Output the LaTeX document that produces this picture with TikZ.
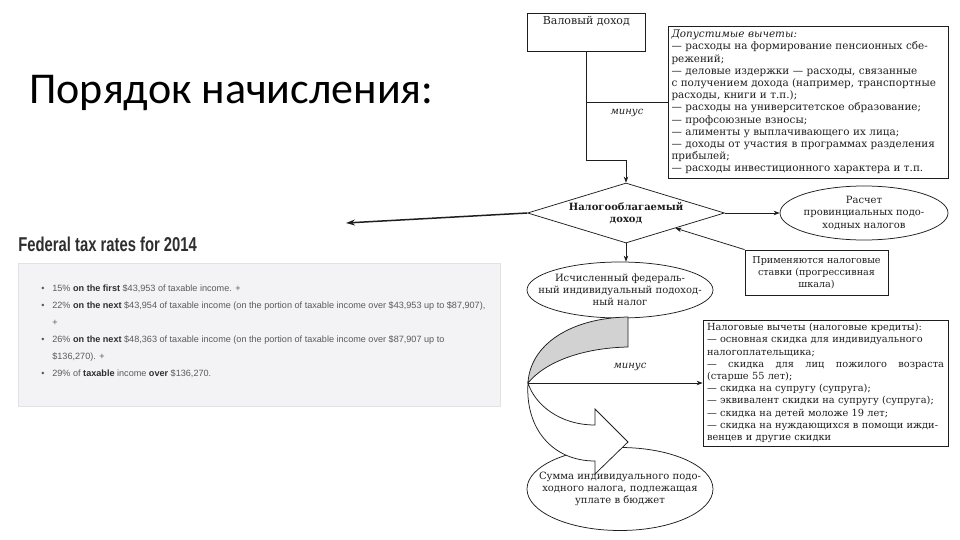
\documentclass[tikz,border=0pt]{standalone}
\usepackage{fontspec}
\usepackage{graphicx}
\setmainfont{DejaVu Serif}
\newfontfamily\titlefont{Carlito}
\newfontfamily\websans{Liberation Sans}
\usetikzlibrary{shapes.geometric,arrows.meta}
\definecolor{ink}{HTML}{1E1E1E}
\definecolor{webtext}{HTML}{5A5A5A}
\definecolor{webdark}{HTML}{2E2E2E}
\definecolor{panelfill}{HTML}{F3F3F5}
\definecolor{panelline}{HTML}{E2E2E4}
\definecolor{bandfill}{HTML}{D2D2D2}
\begin{document}
\begin{tikzpicture}[x=1pt,y=-1pt,line width=0.75pt,color=ink,
  txt/.style={font=\fontsize{10}{12.2}\selectfont},
  box/.style={draw, rectangle, inner sep=0pt, txt, align=center},
  listbox/.style={draw, rectangle, inner sep=0pt, txt, align=left},
  ell/.style={draw, ellipse, inner xsep=-30pt, inner ysep=-10pt, align=center,
              font=\fontsize{10}{12.2}\selectfont},
  arr/.style={-{Stealth[length=6pt,width=4.5pt]}},
  minuslbl/.style={font=\fontsize{10}{12}\selectfont\itshape, inner sep=0pt}
]
\useasboundingbox (0,0) rectangle (960,540);

% ---- left side ----
\node[anchor=base west, inner sep=0pt, font=\titlefont\fontsize{44}{44}\selectfont, text=black]
  (title) at (29,104) {Порядок начисления:};

\node[anchor=base west, inner sep=0pt, font=\websans\bfseries\fontsize{20}{20}\selectfont, text=webdark]
  (head) at (18,251) {\scalebox{0.74}[1]{Federal tax rates for 2014}};

\node[draw=panelline, fill=panelfill, line width=0.8pt, rectangle, minimum width=482, minimum height=143,
      anchor=north west, inner sep=0pt] (panel) at (18,263) {};

\node[anchor=north west, inner sep=0pt, align=left, text=webtext,
      font=\websans\fontsize{9.1}{17}\selectfont] (rates14) at (41,284) {%
\makebox[11pt][l]{\textbullet}15\% \textcolor{webdark}{\textbf{on the first}} \$43,953 of taxable income. +\\
\makebox[11pt][l]{\textbullet}22\% \textcolor{webdark}{\textbf{on the next}} \$43,954 of taxable income (on the portion of taxable income over \$43,953 up to \$87,907),\\
\hspace*{11pt}+\\
\makebox[11pt][l]{\textbullet}26\% \textcolor{webdark}{\textbf{on the next}} \$48,363 of taxable income (on the portion of taxable income over \$87,907 up to\\
\hspace*{11pt}\$136,270). +\\
\makebox[11pt][l]{\textbullet}29\% of \textcolor{webdark}{\textbf{taxable}} income \textcolor{webdark}{\textbf{over}} \$136,270.};

% ---- diagram ----
\node[box, minimum width=118, minimum height=38, anchor=north west,
      font=\fontsize{11}{12.2}\selectfont] (gross) at (527,13)
  {Валовый доход\\~\\~};

\node[listbox, minimum width=280, minimum height=152, text width=273,
      font=\fontsize{10.4}{12.2}\selectfont] (ded) at (808,102) {%
\textit{Допустимые вычеты:}\\
— расходы на формирование пенсионных сбе-\\
режений;\\
— деловые издержки — расходы, связанные\\
с получением дохода (например, транспортные\\
расходы, книги и т.п.);\\
— расходы на университетское образование;\\
— профсоюзные взносы;\\
— алименты у выплачивающего их лица;\\
— доходы от участия в программах разделения\\
прибылей;\\
— расходы инвестиционного характера и т.п.};

\node[draw, diamond, aspect=3.28, minimum width=197, minimum height=60, inner sep=0pt,
      align=center, font=\fontsize{10}{12.2}\selectfont\bfseries] (dia) at (626,213)
  {Налогооблагаемый\\доход};

\node[ell, minimum width=168, minimum height=54] (prov) at (864,213)
  {Расчет\\провинциальных подо-\\ходных налогов};

\node[box, minimum width=143, minimum height=45, font=\fontsize{9.6}{12.2}\selectfont] (rates) at (816.5,272.5)
  {Применяются налоговые\\ставки (прогрессивная\\шкала)};

\node[ell, minimum width=186, minimum height=56] (fed) at (620,290)
  {Исчисленный федераль-\\ный индивидуальный подоход-\\ный налог};

\node[listbox, minimum width=245, minimum height=126, text width=237,
      font=\fontsize{9.8}{12.2}\selectfont] (credit) at (825.5,383) {%
Налоговые вычеты (налоговые кредиты):\\
— основная скидка для индивидуального\\
налогоплательщика;\\
\makebox[237pt][l]{—\hfill скидка\hfill для\hfill лиц\hfill пожилого\hfill возраста}\\
(старше 55 лет);\\
— скидка на супругу (супруга);\\
— эквивалент скидки на супругу (супруга);\\
— скидка на детей моложе 19 лет;\\
— скидка на нуждающихся в помощи ижди-\\
венцев и другие скидки};

\node[ell, minimum width=186, minimum height=83] (sum) at (620,489)
  {Сумма индивидуального подо-\\ходного налога, подлежащая\\уплате в бюджет};

% connectors
\coordinate (lft) at (346,223);
\coordinate (turn) at (528,383);

\draw[arr] (gross.south) -- ++(0,109) -| (dia.north);
\draw (gross.south |- ded.west) -- (ded.west);
\node[minuslbl] (minus1) at (627,113) {минус};

\draw[line width=1.5pt, -{Stealth[length=9pt,width=6pt]}] (dia.west) -- (lft);
\draw[arr] (dia.east) -- (prov.west);
\draw[arr] (rates.north west) -- (dia.south east);
\draw[arr] (dia.south) -- (dia.south |- fed.north);

% curved band and arrow
\draw[fill=bandfill] (628,317) .. controls (570,318) and (530,345) .. (turn)
  .. controls (545,362) and (582,348) .. (628,347) -- cycle;
\draw[fill=white] (turn) .. controls (525,428) and (552,461) .. (595,461)
  -- (595,474) -- (628,442) -- (595,409) -- (595,425)
  .. controls (560,425) and (535,405) .. (turn) -- cycle;

\draw[arr] (turn) -- (credit.west);
\node[minuslbl] (minus2) at (630,367) {минус};
\end{tikzpicture}
\end{document}
